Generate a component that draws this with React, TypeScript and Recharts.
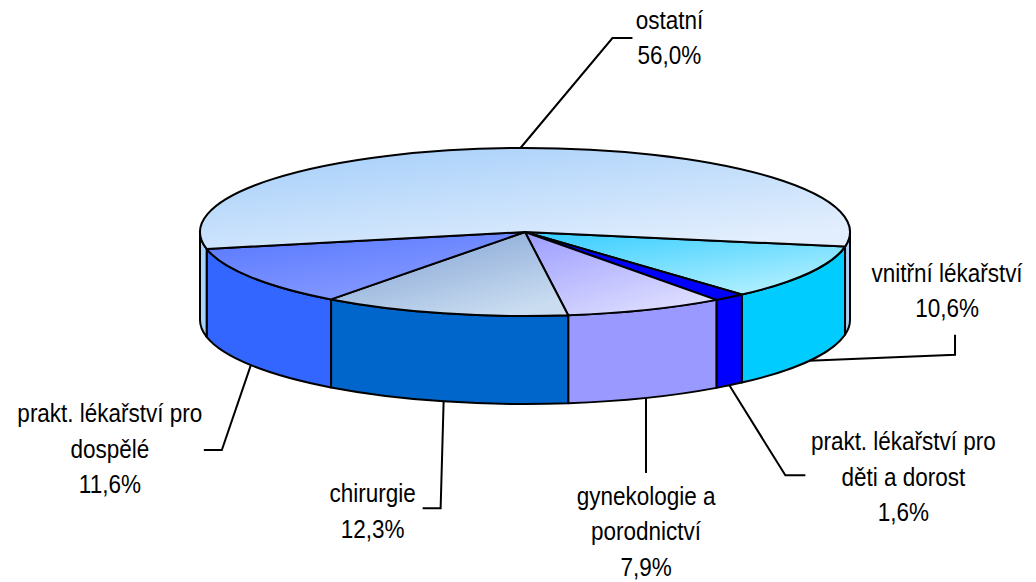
import { Cell, Pie, PieChart } from 'recharts'

const categories = [
  'vnitřní lékařství',
  'prakt. lékařství pro děti a dorost',
  'gynekologie a porodnictví',
  'chirurgie',
  'prakt. lékařství pro dospělé',
  'ostatní',
]
const shares = [10.6, 1.6, 7.9, 12.3, 11.6, 56.0]
const labelLines = [
  ['vnitřní lékařství'],
  ['prakt. lékařství pro', 'děti a dorost'],
  ['gynekologie a', 'porodnictví'],
  ['chirurgie'],
  ['prakt. lékařství pro', 'dospělé'],
  ['ostatní'],
]

const sideColors = ['#00ccff', '#0000ff', '#9999ff', '#0066cc', '#3366ff', '#a8d2f7']
const topFrom = ['#33ccff', '#0000ff', '#9c9cff', '#7b9dd2', '#5577ff', '#a2cdfa']
const topTo = ['#b0efff', '#0000ff', '#dedeff', '#c9dcf0', '#8a9cff', '#e2eefd']

// leader line + text placement, relative to where the leader touches the pie
const labelLayout = [
  { elbow: [146, -6], end: [146, -26], text: [138, -88] },
  { elbow: [56, 90], end: [76, 90], text: [174, 56] },
  { elbow: [0, 75], end: [0, 75], text: [0, 98] },
  { elbow: [-3, 107], end: [-21, 107], text: [-71, 92] },
  { elbow: [-29, 85], end: [-47, 85], text: [-141, 48] },
  { elbow: [92, -110], end: [112, -110], text: [149, -128] },
]

const data = categories.map((name, i) => ({ name, value: shares[i] }))

const TILT = 84 / 325
const DEPTH = 88 / 325
const LINE_H = 35.5

const rad = (d: number) => (d * Math.PI) / 180
const pt = (cx: number, cy: number, rx: number, ry: number, s: number) => [
  cx + rx * Math.cos(rad(s)),
  cy + ry * Math.sin(rad(s)),
]

function Wall(props: any) {
  const { cx, cy, outerRadius, startAngle, endAngle, fill } = props
  const rx = outerRadius
  const ry = outerRadius * TILT
  const d = outerRadius * DEPTH
  const s1 = Math.min(-startAngle, -endAngle)
  const s2 = Math.max(-startAngle, -endAngle)
  const parts = []
  for (const k of [0, 360]) {
    const lo = Math.max(s1, k)
    const hi = Math.min(s2, k + 180)
    if (hi <= lo) continue
    const [ax, ay] = pt(cx, cy, rx, ry, lo)
    const [bx, by] = pt(cx, cy, rx, ry, hi)
    parts.push(
      <path
        key={k}
        d={`M ${ax} ${ay} A ${rx} ${ry} 0 0 1 ${bx} ${by} L ${bx} ${by + d} A ${rx} ${ry} 0 0 0 ${ax} ${ay + d} Z`}
        fill={fill}
        stroke="#000"
        strokeWidth={2}
        strokeLinejoin="round"
      />,
    )
  }
  return <g>{parts}</g>
}

function Top(props: any) {
  const { cx, cy, outerRadius, startAngle, endAngle } = props
  const name = props.name ?? props.payload?.name
  const i = categories.indexOf(name)
  const rx = outerRadius
  const ry = outerRadius * TILT
  const s1 = Math.min(-startAngle, -endAngle)
  const s2 = Math.max(-startAngle, -endAngle)
  const [ax, ay] = pt(cx, cy, rx, ry, s1)
  const [bx, by] = pt(cx, cy, rx, ry, s2)
  const large = s2 - s1 > 180 ? 1 : 0
  const id = `top-grad-${i}`
  return (
    <g>
      <defs>
        <linearGradient id={id} x1="0" y1="0" x2="0.7" y2="1">
          <stop offset="0%" stopColor={topFrom[i]} />
          <stop offset="100%" stopColor={topTo[i]} />
        </linearGradient>
      </defs>
      <path
        d={`M ${cx} ${cy} L ${ax} ${ay} A ${rx} ${ry} 0 ${large} 1 ${bx} ${by} Z`}
        fill={`url(#${id})`}
        stroke="#000"
        strokeWidth={2}
        strokeLinejoin="round"
      />
    </g>
  )
}

function SliceLabel(props: any) {
  const { cx, cy, outerRadius, midAngle } = props
  const name = props.name ?? props.payload?.name
  const i = categories.indexOf(name)
  if (i < 0) return null
  const rx = outerRadius
  const ry = outerRadius * TILT
  const d = outerRadius * DEPTH
  let m = -midAngle
  m = ((m % 360) + 360) % 360
  let [x, y] = pt(cx, cy, rx, ry, m)
  if (m > 0 && m < 180) y += d
  const lay = labelLayout[i]
  const lines = [...labelLines[i], `${shares[i].toFixed(1).replace('.', ',')}%`]
  const tx = x + lay.text[0]
  const ty = y + lay.text[1]
  return (
    <g>
      <polyline
        points={`${x},${y} ${x + lay.elbow[0]},${y + lay.elbow[1]} ${x + lay.end[0]},${y + lay.end[1]}`}
        fill="none"
        stroke="#000"
        strokeWidth={2}
      />
      {lines.map((t, k) => (
        <text
          key={k}
          transform={`translate(${tx} ${ty + k * LINE_H}) scale(0.9 1)`}
          textAnchor="middle"
          dominantBaseline="central"
          fontSize={25}
          fontFamily="'Liberation Sans', Arial, sans-serif"
          fill="#000"
        >
          {t}
        </text>
      ))}
    </g>
  )
}

export default function App() {
  return (
    <div style={{ position: 'absolute', left: 0, top: 0, background: '#fff' }}>
      <PieChart width={1036} height={582} margin={{ top: 0, right: 0, bottom: 0, left: 0 }}>
        <Pie
          data={data}
          dataKey="value"
          nameKey="name"
          cx={525}
          cy={232}
          outerRadius={325}
          startAngle={-10}
          endAngle={-370}
          stroke="none"
          shape={Wall}
          inactiveShape={Wall}
          activeShape={Wall}
          label={false}
          labelLine={false}
          isAnimationActive={false}
        >
          {data.map((_, i) => (
            <Cell key={i} fill={sideColors[i]} />
          ))}
        </Pie>
        <Pie
          data={data}
          dataKey="value"
          nameKey="name"
          cx={525}
          cy={232}
          outerRadius={325}
          startAngle={-10}
          endAngle={-370}
          stroke="none"
          shape={Top}
          inactiveShape={Top}
          activeShape={Top}
          label={SliceLabel}
          labelLine={false}
          isAnimationActive={false}
        >
          {data.map((_, i) => (
            <Cell key={i} fill={topFrom[i]} />
          ))}
        </Pie>
      </PieChart>
    </div>
  )
}
